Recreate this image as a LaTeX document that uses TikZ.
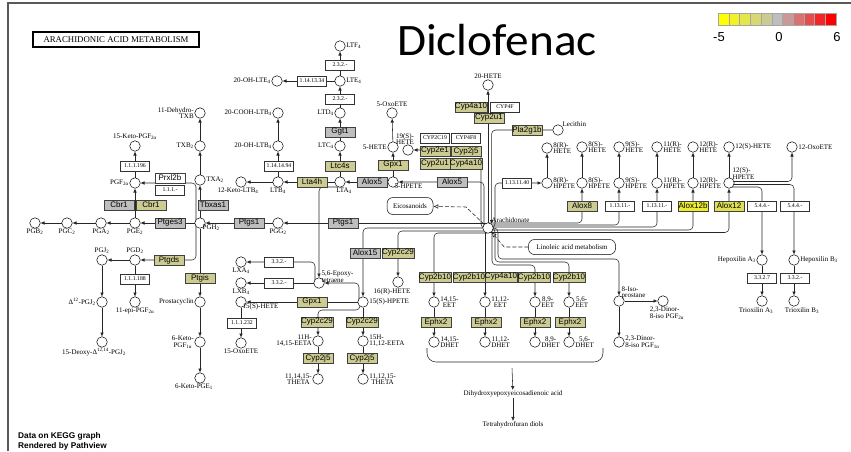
\documentclass[tikz,border=0pt]{standalone}
\usepackage{fontspec}
\setmainfont{Liberation Serif}
\newfontfamily\arialfont{Liberation Sans}
\newfontfamily\titlefont{Carlito}
\usetikzlibrary{arrows.meta,calc}

\pgfdeclarelayer{bg}
\pgfsetlayers{bg,main}

\definecolor{kgolive}{RGB}{204,204,146}
\definecolor{kggray}{RGB}{190,190,190}
\definecolor{kgyellow}{RGB}{236,236,48}
\definecolor{kgyellowb}{RGB}{224,224,84}

\newcommand\ssub[1]{\textsubscript{#1}}
\newcommand\cpdfont{\fontsize{7}{6.4}\selectfont}
\newcommand\genefont{\arialfont\fontsize{8}{8}\selectfont}
\newcommand\ecfont{\fontsize{5.8}{6}\selectfont}

\begin{document}
\begin{tikzpicture}
  [x=1pt,y=-1pt,every path/.style={>={Latex[length=4pt,width=3.6pt]}},
   cpd/.style={draw,circle,fill=white,inner sep=0pt,minimum size=10.5pt,line width=.5pt},
   lbl/.style={font=\cpdfont,inner sep=.6pt,align=left},
   gene/.style={draw=black!75,fill=kgolive,line width=.5pt,minimum width=30pt,minimum height=10.5pt,inner sep=0pt,font=\genefont},
   ggray/.style={gene,fill=kggray},
   gwhite/.style={gene,fill=white},
   ec/.style={draw=black!80,fill=white,line width=.5pt,minimum width=29pt,minimum height=10pt,inner sep=0pt,font=\ecfont},
   link/.style={draw=black!85,line width=.55pt},
   rc/.style={link,rounded corners=4pt},
   pway/.style={draw,fill=white,rounded corners=6pt,font=\cpdfont,inner sep=1pt,line width=.5pt}]
  \useasboundingbox (0,0) rectangle (851,451);
  \draw[black!65,line width=1.2pt] (8,451) -- (8,3) -- (851,3);

  % title, legend, map name
  \node[font=\titlefont\fontsize{45}{45}\selectfont,anchor=base,inner sep=0pt] (title) at (497,55) {\scalebox{1.05}[1]{Diclofenac}};
  \foreach \i in {0,...,10}{
    \pgfmathtruncatemacro\colR{\i<5 ? 255-13*\i : 190+13*(\i-5)}
    \pgfmathtruncatemacro\colG{\i<5 ? 255-13*\i : 190-38*(\i-5)}
    \pgfmathtruncatemacro\colB{\i<5 ? 38*\i : 190-38*(\i-5)}
    \definecolor{cellc}{RGB}{\colR,\colG,\colB}
    \filldraw[fill=cellc,draw=black!35,line width=.3pt] (718+10.73*\i,13) rectangle ++(10.73,12);
  }
  \node[font=\arialfont\fontsize{13}{13}\selectfont] (lgmin) at (719,37) {-5};
  \node[font=\arialfont\fontsize{13}{13}\selectfont] (lgzero) at (779,37) {0};
  \node[font=\arialfont\fontsize{13}{13}\selectfont] (lgmax) at (837,37) {6};
  \node[draw,line width=1.3pt,minimum width=166pt,minimum height=15pt,inner sep=0pt,font=\fontsize{8.8}{9}\selectfont] (map) at (116,39.5) {ARACHIDONIC ACID METABOLISM};
  \node[font=\arialfont\bfseries\fontsize{8.3}{9.5}\selectfont,align=left,anchor=south west,inner sep=0pt] (foot) at (18,450) {Data on KEGG graph\\Rendered by Pathview};

  % prostaglandins
  \node[cpd,label={[lbl,align=right]left:{11-Dehydro-\\TXB}}] (dhtxb) at (200,113) {};
  \node[cpd,label={[lbl]left:{TXB\ssub{2}}}] (txb2) at (200,146) {};
  \node[cpd,label={[lbl]right:{TXA\ssub{2}}}] (txa2) at (200,180) {};
  \node[cpd,label={[lbl]above:{15-Keto-PGF\ssub{2α}}}] (kpgf) at (135,146) {};
  \node[cpd,label={[lbl]left:{PGF\ssub{2α}}}] (pgf2a) at (135,183) {};
  \node[cpd,label={[lbl]below:{PGB\ssub{2}}}] (pgb2) at (35,223) {};
  \node[cpd,label={[lbl]below:{PGC\ssub{2}}}] (pgc2) at (67,223) {};
  \node[cpd,label={[lbl]below:{PGA\ssub{2}}}] (pga2) at (101,223) {};
  \node[cpd,label={[lbl]below:{PGE\ssub{2}}}] (pge2) at (135,223) {};
  \node[cpd,label={[lbl,xshift=-2pt,yshift=3pt]below right:{PGH\ssub{2}}}] (pgh2) at (200,223) {};
  \node[cpd,label={[lbl]below:{PGG\ssub{2}}}] (pgg2) at (278,223) {};
  \node[cpd,label={[lbl]above:{PGJ\ssub{2}}}] (pgj2) at (102,260) {};
  \node[cpd,label={[lbl]above:{PGD\ssub{2}}}] (pgd2) at (135,260) {};
  \node[cpd,label={[lbl]left:{Δ\textsuperscript{12}-PGJ\ssub{2}}}] (dpgj2) at (102,302) {};
  \node[cpd,label={[lbl]below:{11-epi-PGF\ssub{2α}}}] (epgf) at (135,302) {};
  \node[cpd,label={[lbl]left:{Prostacyclin}}] (pgi2) at (200,302) {};
  \node[cpd,label={[lbl,align=center]left:{6-Keto-\\PGF\ssub{1α}}}] (kpgf1) at (200,342) {};
  \node[cpd,label={[lbl,xshift=-8pt]below:{15-Deoxy-Δ\textsuperscript{12,14}-PGJ\ssub{2}}}] (ddpgj2) at (102,342) {};
  \node[cpd,label={[lbl,xshift=-6pt]below:{6-Keto-PGE\ssub{1}}}] (kpge1) at (200,378) {};

  % leukotrienes
  \node[cpd,label={[lbl]left:{20-OH-LTE\ssub{4}}}] (ohlte) at (277,81) {};
  \node[cpd,label={[lbl]left:{20-COOH-LTB\ssub{4}}}] (cooh) at (278,113) {};
  \node[cpd,label={[lbl]left:{20-OH-LTB\ssub{4}}}] (ohltb) at (278,146) {};
  \node[cpd,label={[lbl,xshift=-3pt]below:{12-Keto-LTB\ssub{4}}}] (kltb) at (241,182) {};
  \node[cpd,label={[lbl]below:{LTB\ssub{4}}}] (ltb4) at (278,182) {};
  \node[cpd,label={[lbl]right:{LTF\ssub{4}}}] (ltf4) at (340,46) {};
  \node[cpd,label={[lbl]right:{LTE\ssub{4}}}] (lte4) at (340,81) {};
  \node[cpd,label={[lbl]left:{LTD\ssub{4}}}] (ltd4) at (340,113) {};
  \node[cpd,label={[lbl]left:{LTC\ssub{4}}}] (ltc4) at (340,146) {};
  \node[cpd,label={[lbl,xshift=4pt]below:{LTA\ssub{4}}}] (lta4) at (340,182) {};
  \node[cpd,label={[lbl]above:{5-OxoETE}}] (oxo5) at (392,113) {};
  \node[cpd,label={[lbl]left:{5-HETE}}] (hete5) at (393,147) {};
  \node[cpd,label={[lbl,xshift=-3pt,yshift=3pt]below right:{5-HPETE}}] (hpete5) at (393,182) {};
  \node[cpd,label={[lbl,xshift=-3pt,yshift=-1pt]above:{19(S)-\\HETE}}] (hete19) at (408,150) {};
  \node[cpd,label={[lbl]above:{20-HETE}}] (hete20) at (488,85) {};
  \node[cpd,label={[lbl,xshift=-1pt,yshift=1pt]above right:{Arachidonate}}] (arach) at (488,228) {};
  \node[cpd,label={[lbl,yshift=-1pt]above right:{Lecithin}}] (lecithin) at (558,130) {};

  % lipoxygenase products
  \node[cpd,label={[lbl]right:{8(R)-\\HETE}}] (hete8r) at (547,148) {};
  \node[cpd,label={[lbl]right:{8(R)-\\HPETE}}] (hpete8r) at (547,183) {};
  \foreach \nm/\x/\lab in {8s/582/8(S)-,9s/619/9(S)-,11r/657/11(R)-,12r/693/12(R)-}{
    \node[cpd,label={[lbl]right:{\lab\\HETE}}] (hete\nm) at (\x,147) {};
    \node[cpd,label={[lbl]right:{\lab\\HPETE}}] (hpete\nm) at (\x,183) {};
  }
  \node[cpd,label={[lbl]right:{12(S)-HETE}}] (hete12s) at (729,147) {};
  \node[cpd,label={[lbl,xshift=-1pt,yshift=-1pt]above right:{12(S)-\\HPETE}}] (hpete12s) at (729,183) {};
  \node[cpd,label={[lbl]right:{12-OxoETE}}] (oxo12) at (792,147) {};
  \node[cpd,label={[lbl]left:{Hepoxilin A\ssub{3}}}] (hxa3) at (762,260) {};
  \node[cpd,label={[lbl]right:{Hepoxilin B\ssub{3}}}] (hxb3) at (794,260) {};
  \node[cpd,label={[lbl,xshift=-6pt]below:{Trioxilin A\ssub{3}}}] (txa3) at (762,301) {};
  \node[cpd,label={[lbl,xshift=8pt]below:{Trioxilin B\ssub{3}}}] (txb3) at (794,301) {};

  % 15-lipoxygenase branch
  \node[cpd,label={[lbl]below:{LXA\ssub{4}}}] (lxa4) at (241,262) {};
  \node[cpd,label={[lbl]below:{LXB\ssub{4}}}] (lxb4) at (241,283) {};
  \node[cpd,label={[lbl,xshift=-3pt,yshift=3pt]below right:{15(S)-HETE}}] (hete15) at (241,302) {};
  \node[cpd,label={[lbl]below:{15-OxoETE}}] (oxo15) at (241,343) {};
  \node[cpd,label={[lbl,xshift=-2pt,yshift=-4pt]above right:{5,6-Epoxy-\\tetraene}}] (epox) at (319,283) {};
  \node[cpd,label={[lbl]right:{15(S)-HPETE}}] (hpete15) at (363,302) {};
  \node[cpd,label={[lbl,align=right]left:{11H-\\14,15-EETA}}] (eeta11) at (318,341) {};
  \node[cpd,label={[lbl,align=center]left:{11,14,15-\\THETA}}] (theta1) at (318,379) {};
  \node[cpd,label={[lbl]right:{15H-\\11,12-EETA}}] (eeta15) at (363,341) {};
  \node[cpd,label={[lbl,align=center]right:{11,12,15-\\THETA}}] (theta2) at (363,379) {};
  \node[cpd,label={[lbl,xshift=-6pt]below:{16(R)-HETE}}] (hete16) at (398,282) {};

  % epoxygenase branch
  \foreach \nm/\x/\lab in {1415/434/{14,15-},1112/485/{11,12-},89/535/{8,9-},56/569/{5,6-}}{
    \node[cpd,label={[lbl,align=center]right:{\lab\\EET}}] (eet\nm) at (\x,302) {};
    \node[cpd,label={[lbl,align=center]right:{\lab\\DHET}}] (dhet\nm) at (\x,342) {};
  }
  \node[cpd,label={[lbl,xshift=-2pt,yshift=-3pt]above right:{8-Iso-\\prostane}}] (isop) at (619,301) {};
  \node[cpd,label={[lbl,xshift=4pt]below:{2,3-Dinor-\\8-iso PGF\ssub{2α}}}] (dinor2) at (663,301) {};
  \node[cpd,label={[lbl]right:{2,3-Dinor-\\8-iso PGF\ssub{1α}}}] (dinor1) at (619,342) {};

  \node[pway,minimum width=46pt,minimum height=17pt] (eico) at (410,206) {Eicosanoids};
  \node[pway,minimum width=87pt,minimum height=15pt] (lino) at (572,247) {Linoleic acid metabolism};
  \node[lbl] (dhe) at (513,394) {Dihydroxyepoxyeicosadienoic acid};
  \node[lbl] (thf) at (513,425) {Tetrahydrofuran diols};
  \coordinate (brk) at (512,368);

  % connectors
  \begin{pgfonlayer}{bg}
    \foreach \from/\to in {pge2/pga2,pga2/pgc2,pgc2/pgb2,pgh2/pge2,pgg2/pgh2,pge2/pgf2a,pgf2a/kpgf,
        pgh2/txa2,txa2/txb2,txb2/dhtxb,pgd2/pgj2,pgd2/epgf,pgj2/dpgj2,dpgj2/ddpgj2,
        pgh2/pgi2,pgi2/kpgf1,kpgf1/kpge1,ltb4/kltb,ltb4/ohltb,ohltb/cooh,lta4/ltb4,
        lta4/ltc4,ltc4/ltd4,ltd4/lte4,lte4/ltf4,lte4/ohlte,hpete5/lta4,hpete5/hete5,
        hete5/oxo5,hpete15/hete15,hete15/oxo15,hpete15/eeta15,eeta15/theta2,
        eeta11/theta1,epox/lxb4,arach/hete20,hpete8r/hete8r,hpete8s/hete8s,
        hpete9s/hete9s,hpete11r/hete11r,hpete12r/hete12r,hpete12s/hete12s,
        hxa3/txa3,hxb3/txb3,isop/dinor2,isop/dinor1,eet1415/dhet1415,
        eet1112/dhet1112,eet89/dhet89,eet56/dhet56,brk/dhe,dhe/thf}
      \draw[link,->] (\from) -- (\to);
    \draw[rc,->] (pgh2) ++(-4,0) |- (pgf2a);
    \draw[rc,->] (pgh2) ++(-4,0) |- (pgd2);
    \draw[link,->] (pgg2 -| arach) -- (pgg2);
    \draw[rc,->] (arach) ++(-4,0) |- (hpete5);
    \draw[rc,->] (arach) -- ++(-7,0) |- (hete19);
    \draw[rc,->] (lecithin) -| (arach.50);
    \draw[rc,->] (arach) -- ++(7,0) |- (hpete8r);
    \draw[rc,->] (arach) ++(0,-5) -| (hpete8s);
    \draw[rc,->] (arach) ++(0,-3) -| (hpete9s);
    \draw[rc,->] (arach) ++(0,-1) -| (hpete11r);
    \draw[rc,->] (arach) ++(0,2) -| (hpete12r);
    \draw[rc,->] (arach) ++(0,4.5) -| (hpete12s);
    \draw[rc,->] (hpete12s) ++(0,-1.5) -| (oxo12);
    \draw[rc,->] (hpete12s) ++(0,1.5) -| (hxb3);
    \draw[rc,->] (hpete12s) ++(0,4) -| (hxa3);
    \draw[rc,->] (arach) -| (hpete15);
    \draw[rc,->] (arach) ++(-4,3) -| (hete16);
    \draw[rc,->] (arach) ++(-1,5) -| (eet1415);
    \draw[link,->] (arach -| eet1112) -- (eet1112);
    \draw[rc,->] (arach) ++(4,0) -- ++(0,37) -| (eet89);
    \draw[rc,->] (arach) -- ++(7,0) -- ++(0,34) -| (eet56);
    \draw[rc,->] (arach) -- ++(10,0) -- ++(0,31) -| (isop);
    \draw[rc,->] (lta4) ++(-2,5) -| (epox);
    \draw[rc,->] (epox) ++(-4,0) |- (lxa4);
    \draw[rc,->] (hpete15) ++(-4,0) |- (epox);
    \draw[rc,->] (hpete15) ++(-3,0) -- ++(0,8) -| (eeta11);
    \draw[link,dash pattern=on 4pt off 2pt,-{Latex[open,length=5pt,width=4.5pt]}] (arach) -- ++(-22,-21) -- (eico);
    \draw[link,dash pattern=on 4pt off 2pt,-{Latex[open,length=5pt,width=4.5pt]}] (lino.west) -- ++(-24,0) -- (arach);
    \draw[link,rounded corners=9pt] (427,348) -- (427,362) -- (603,362) -- (603,348);
  \end{pgfonlayer}

  % enzymes
  \node[ec] (e1111196) at (135,166) {1.1.1.196};
  \node[gwhite] (prxl2b) at (170,178) {Prxl2b};
  \node[ec] (e111) at (170,190) {1.1.1.-};
  \node[ggray] (cbr1a) at (119,205) {Cbr1};
  \node[gene] (cbr1b) at (151,205) {Cbr1};
  \node[ggray] (tbxas1) at (213,205) {Tbxas1};
  \node[ggray] (ptges3) at (170,223) {Ptges3};
  \node[ggray] (ptgs1a) at (249,223) {Ptgs1};
  \node[gene] (ptgds) at (169,260) {Ptgds};
  \node[ec] (e111188) at (135,279) {1.1.1.188};
  \node[gene] (ptgis) at (200,278) {Ptgis};
  \node[ec] (e332a) at (279,262) {3.3.2.-};
  \node[ec] (e332b) at (279,283) {3.3.2.-};
  \node[gene] (gpx1b) at (312,302) {Gpx1};
  \node[ec] (e111232) at (242,323) {1.1.1.232};
  \node[gene] (cyp2c29a) at (317,322) {Cyp2c29};
  \node[gene] (cyp2c29b) at (362,322) {Cyp2c29};
  \node[gene] (cyp2j5a) at (318,358) {Cyp2j5};
  \node[gene] (cyp2j5b) at (362,358) {Cyp2j5};
  \node[ggray] (alox15) at (365,253) {Alox15};
  \node[gene] (cyp2c29c) at (398,253) {Cyp2c29};
  \node[ggray] (ptgs1b) at (343,223) {Ptgs1};
  \node[gene] (lta4h) at (312,182) {Lta4h};
  \node[ggray] (alox5a) at (372,182) {Alox5};
  \node[ggray] (alox5b) at (452,182) {Alox5};
  \node[gene] (ltc4s) at (340,166) {Ltc4s};
  \node[ggray] (ggt1) at (340,132) {Ggt1};
  \node[ec] (e232a) at (340,99) {2.3.2.-};
  \node[ec] (e232b) at (340,65) {2.3.2.-};
  \node[ec] (e1141334) at (312,81) {1.14.13.34};
  \node[ec] (e1141494) at (279,166) {1.14.14.94};
  \node[gene] (gpx1a) at (393,165) {Gpx1};
  \node[ec] (cyp2c19) at (435,138) {CYP2C19};
  \node[ec] (cyp4f8) at (466,138) {CYP4F8};
  \node[gene] (cyp2e1) at (435,151) {Cyp2e1};
  \node[gene] (cyp2j5c) at (466,151) {Cyp2j5};
  \node[gene] (cyp2u1a) at (435,163.5) {Cyp2u1};
  \node[gene] (cyp4a10a) at (466,163.5) {Cyp4a10};
  \node[gene] (cyp4a10b) at (471,107) {Cyp4a10};
  \node[ec] (cyp4f) at (505,107) {CYP4F};
  \node[gene] (cyp2u1b) at (489,118) {Cyp2u1};
  \node[gene] (pla2g1b) at (527,130) {Pla2g1b};
  \node[ec] (e1311140) at (517,183) {1.13.11.40};
  \node[gene] (alox8) at (582,206) {Alox8};
  \node[ec] (e1311a) at (620,206) {1.13.11.-};
  \node[ec] (e1311b) at (657,206) {1.13.11.-};
  \node[gene,fill=kgyellow] (alox12b) at (693,206) {Alox12b};
  \node[gene,fill=kgyellowb] (alox12) at (729,206) {Alox12};
  \node[ec] (e544a) at (762,206) {5.4.4.-};
  \node[ec] (e544b) at (795,206) {5.4.4.-};
  \node[ec] (e3327) at (762,278) {3.3.2.7};
  \node[ec] (e332c) at (795,278) {3.3.2.-};
  \node[gene] (cyp2b10a) at (435,277) {Cyp2b10};
  \node[gene] (cyp2b10b) at (469,277) {Cyp2b10};
  \node[gene] (cyp4a10c) at (501,277) {Cyp4a10};
  \node[gene] (cyp2b10c) at (534,277) {Cyp2b10};
  \node[gene] (cyp2b10d) at (569,277) {Cyp2b10};
  \node[gene] (ephx2a) at (436,322) {Ephx2};
  \node[gene] (ephx2b) at (486,322) {Ephx2};
  \node[gene] (ephx2c) at (535,322) {Ephx2};
  \node[gene] (ephx2d) at (570,322) {Ephx2};
\end{tikzpicture}
\end{document}
